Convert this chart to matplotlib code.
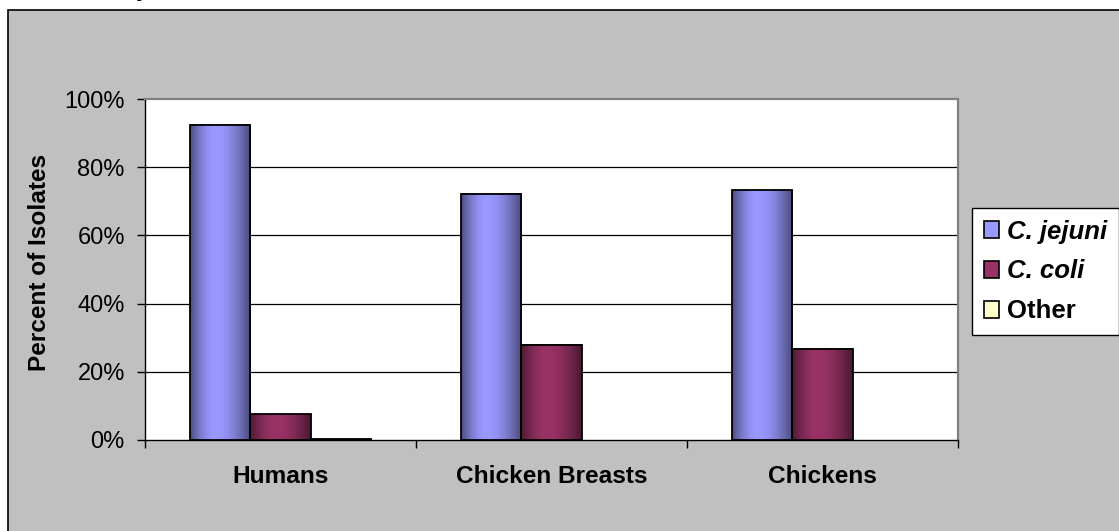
import numpy as np
import matplotlib
matplotlib.use("Agg")
import matplotlib.pyplot as plt
from matplotlib.patches import Rectangle, Patch
from matplotlib.ticker import FuncFormatter, FixedLocator

categories = ["Humans", "Chicken Breasts", "Chickens"]
series_names = ["C. jejuni", "C. coli", "Other"]
jejuni = [92.4, 72.2, 73.3]
coli = [7.5, 27.9, 26.8]
other = [0.4, 0.0, 0.0]
series_values = [jejuni, coli, other]
series_colors = ["#9999ff", "#993366", "#ffffcc"]
y_ticks = [0, 20, 40, 60, 80, 100]

plt.rcParams["font.family"] = ["Liberation Sans", "DejaVu Sans"]
FS = 17

W, H = 1119, 531
fig = plt.figure(figsize=(W / 100, H / 100), dpi=100, facecolor="white")

# chart area background (extends past right and bottom edges)
fig.patches.append(Rectangle((8 / W, -0.1), 1.2, 1 - 10 / H + 0.1, transform=fig.transFigure,
                             facecolor="#c0c0c0", edgecolor="black", linewidth=1.2, zorder=-10))
# cut-off title fragment at top
fig.text(136 / W, 1 + 4 / H, "y", fontsize=FS, fontweight="bold", va="baseline", ha="left",
         zorder=-5)

ax = fig.add_axes([145 / W, 1 - 440 / H, (958 - 145) / W, (440 - 99) / H])
ax.set_zorder(1)
ax.set_facecolor("white")

bw = 0.223
x = np.arange(len(categories))
offsets = [-bw, 0.0, bw]


def shade_profile(n=200, peak=0.42):
    t = np.linspace(0, 1, n)
    b = np.where(t < peak,
                 0.5 + 0.5 * np.sin(np.pi / 2 * t / peak),
                 0.48 + 0.52 * np.sin(np.pi / 2 * (1 - t) / (1 - peak)))
    return b


prof = shade_profile()
for vals, col, off in zip(series_values, series_colors, offsets):
    bars = ax.bar(x + off, vals, width=bw, facecolor="none", edgecolor="black",
                  linewidth=1.3, zorder=4)
    rgb = np.array(matplotlib.colors.to_rgb(col))
    if col == "#ffffcc":
        grad = np.tile(rgb, (1, len(prof), 1))
    else:
        grad = (prof[:, None] * rgb[None, :])[None, :, :]
    for r in bars:
        x0, h = r.get_x(), r.get_height()
        if h <= 0:
            r.set_linewidth(0)
            continue
        ax.imshow(grad, extent=(x0, x0 + r.get_width(), 0, h), aspect="auto",
                  interpolation="bilinear", zorder=3)

ax.set_xlim(-0.5, len(categories) - 0.5)
ax.set_ylim(0, 100)

# y axis
ax.set_yticks(y_ticks)
ax.yaxis.set_major_formatter(FuncFormatter(lambda v, p: f"{int(v)}%"))
ax.tick_params(axis="y", direction="out", length=6, width=1, pad=8.5, labelsize=FS, color="black")
for yv in y_ticks[1:-1]:
    ax.axhline(yv, color="black", linewidth=0.9, zorder=1)

# x axis
ax.xaxis.set_major_locator(FixedLocator(np.arange(len(categories) + 1) - 0.5))
ax.xaxis.set_minor_locator(FixedLocator(x))
ax.xaxis.set_major_formatter(FuncFormatter(lambda v, p: ""))
ax.set_xticks(x, categories, minor=True)
ax.tick_params(axis="x", which="major", direction="out", length=6, width=1, color="black")
ax.tick_params(axis="x", which="minor", length=0, pad=18, labelsize=17.6)
for lbl in ax.get_xticklabels(minor=True):
    lbl.set_fontweight("bold")

for s in ["top", "right"]:
    ax.spines[s].set_color("#808080")
    ax.spines[s].set_linewidth(1.6)
for s in ["left", "bottom"]:
    ax.spines[s].set_color("black")
    ax.spines[s].set_linewidth(1.0)

fig.text(40 / W, 269 / H, "Percent of Isolates", rotation=90, fontsize=17.6, fontweight="bold",
         ha="center", va="center")

LFS = 18.5
handles = [Patch(facecolor=c, edgecolor="black", linewidth=1.2) for c in series_colors]
leg = fig.legend(handles, series_names, loc="upper left", bbox_to_anchor=(972 / W, 1 - 208 / H),
                 bbox_transform=fig.transFigure, borderaxespad=0, frameon=True, fancybox=False,
                 edgecolor="black", facecolor="white", framealpha=1, fontsize=LFS,
                 handlelength=0.62, handleheight=0.62, handletextpad=0.3, labelspacing=0.62,
                 borderpad=0.45)
leg.get_frame().set_linewidth(1.0)
for t in leg.get_texts():
    t.set_fontweight("bold")
    if t.get_text() != "Other":
        t.set_fontstyle("italic")

fig.savefig("out.png", dpi=100, facecolor="white")
